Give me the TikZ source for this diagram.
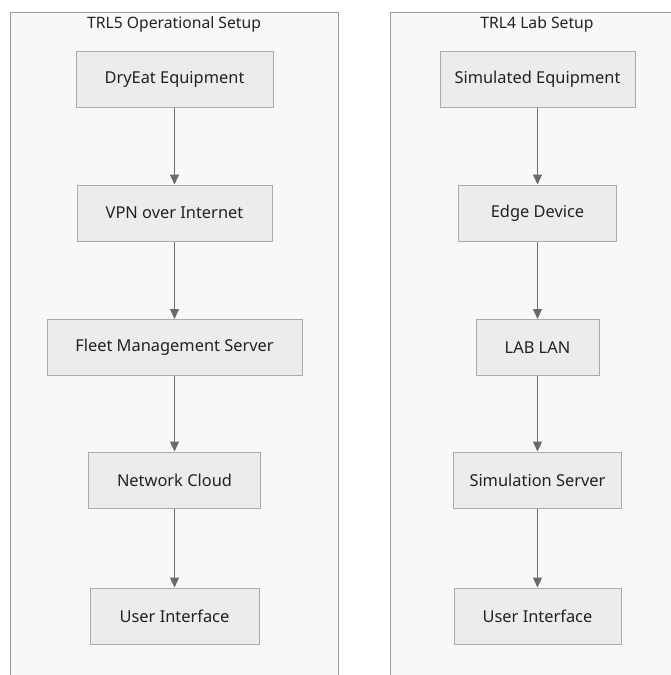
\documentclass[tikz,border=0pt]{standalone}
\usepackage{fontspec}
\setmainfont{Noto Sans}
\usetikzlibrary{arrows.meta}
\definecolor{clfill}{HTML}{F8F8F8}
\definecolor{cldraw}{HTML}{9A9A9A}
\definecolor{bxfill}{HTML}{ECECEC}
\definecolor{bxdraw}{HTML}{ABABAB}
\definecolor{arr}{HTML}{6A6A6A}
\definecolor{txt}{HTML}{222222}
\tikzset{
  cluster/.style={draw=cldraw, fill=clfill, line width=1pt},
  cltitle/.style={font=\fontsize{15.7}{18}\selectfont, text=txt, inner sep=0pt},
  box/.style={draw=bxdraw, fill=bxfill, line width=1pt, font=\fontsize{16.4}{19}\selectfont, text=txt, minimum height=56pt, inner sep=0pt},
  flow/.style={draw=arr, line width=1pt, -{Triangle[length=10pt,width=9pt]}}
}
\begin{document}
\begin{tikzpicture}[x=1pt,y=-1pt]
\useasboundingbox (0,0) rectangle (671,675);
\clip (0,0) rectangle (671,675);
\fill[white] (0,0) rectangle (671,675);
% clusters
\draw[cluster] (10,12) rectangle (338,690);
\draw[cluster] (390,12) rectangle (690,690);
\node[cltitle] (t1) at (174,24) {TRL5 Operational Setup};
\node[cltitle] (t2) at (537,24) {TRL4 Lab Setup};
% left column
\node[box, minimum width=197pt] (a1) at (174.5,79.5) {DryEat Equipment};
\node[box, minimum width=195pt] (a2) at (174.5,213) {VPN over Internet};
\node[box, minimum width=255pt] (a3) at (174.5,347.5) {Fleet Management Server};
\node[box, minimum width=172pt] (a4) at (174.5,480) {Network Cloud};
\node[box, minimum width=169pt] (a5) at (174.5,616) {User Interface};
% right column
\node[box, minimum width=195pt] (b1) at (537.5,79.5) {Simulated Equipment};
\node[box, minimum width=158pt] (b2) at (537.5,213) {Edge Device};
\node[box, minimum width=123pt] (b3) at (537.5,347.5) {LAB LAN};
\node[box, minimum width=168pt] (b4) at (537.5,480) {Simulation Server};
\node[box, minimum width=167pt] (b5) at (537.5,616) {User Interface};
% connectors
\draw[flow] (a1) -- (a2);
\draw[flow] (a2) -- (a3);
\draw[flow] (a3) -- (a4);
\draw[flow] (a4) -- (a5);
\draw[flow] (b1) -- (b2);
\draw[flow] (b2) -- (b3);
\draw[flow] (b3) -- (b4);
\draw[flow] (b4) -- (b5);
\end{tikzpicture}
\end{document}
